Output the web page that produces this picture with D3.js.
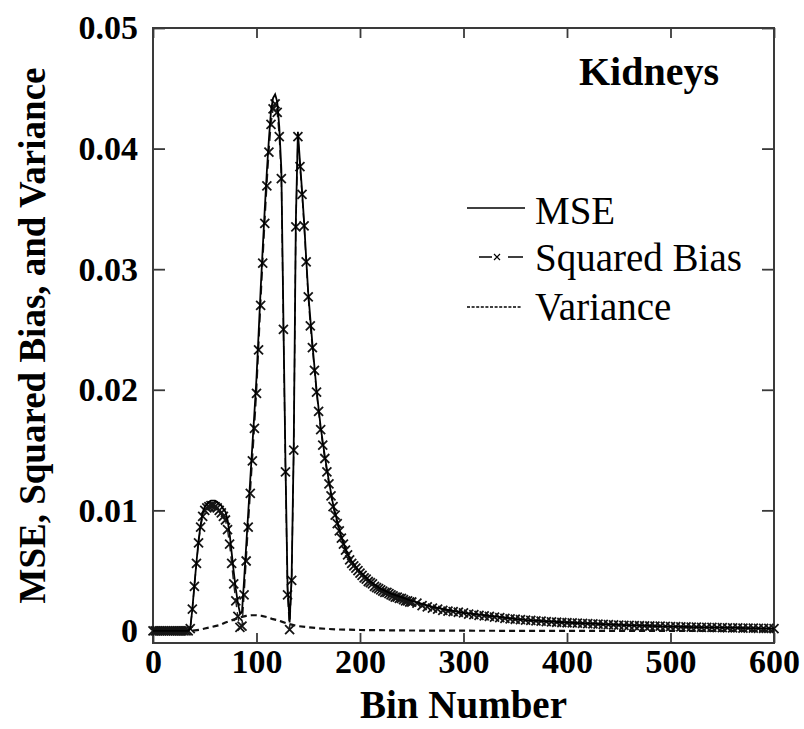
<!DOCTYPE html>
<html>
<head>
<meta charset="utf-8">
<script src="https://cdn.jsdelivr.net/npm/d3@7"></script>
<style>
  body { margin: 0; background: #fff; }
  svg text { font-family: "Liberation Serif", "Times New Roman", serif; }
</style>
</head>
<body>
<svg id="chart"></svg>
<script>
// eixos
const xTicks = [0, 100, 200, 300, 400, 500, 600];
const yTicks = [0, 0.01, 0.02, 0.03, 0.04, 0.05];
const yTickLabels = ["0", "0.01", "0.02", "0.03", "0.04", "0.05"];
const seriesNames = ["MSE", "Squared Bias", "Variance"];

// Squared Bias (um ponto por marcador)
const biasBins = [
  0, 2, 4, 6, 8, 10, 12, 14, 16, 18, 20, 22, 24, 26, 28, 30, 32, 34,
  36, 38, 40, 42, 44, 46, 48, 50, 52, 54, 56, 58, 60, 62, 64, 66, 68, 70,
  72, 74, 76, 78, 80, 82, 84, 86, 88, 90, 92, 94, 96, 98, 100, 102, 104,
  106, 108, 110, 112, 114, 116, 118, 120, 122, 124, 126, 128, 130, 132,
  134, 136, 138, 140, 142, 144, 146, 148, 150,
  152, 154, 156, 158, 160, 162, 164, 166, 168, 170, 172, 174, 176, 178,
  180, 182, 184, 186, 188, 190, 192, 194, 196, 198, 200, 202, 204, 206,
  208, 210, 212, 214, 216, 218, 220, 222, 224, 226, 228, 230, 232, 234,
  236, 238, 240, 242, 244, 246, 248, 250,
  255, 260, 265, 270, 275, 280, 285, 290, 295, 300, 305, 310, 315, 320,
  325, 330, 335, 340, 345, 350, 355, 360, 365, 370, 375, 380, 385, 390,
  395, 400, 405, 410, 415, 420, 425, 430, 435, 440, 445, 450, 455, 460,
  465, 470, 475, 480, 485, 490, 495, 500, 505, 510, 515, 520, 525, 530,
  535, 540, 545, 550, 555, 560, 565, 570, 575, 580, 585, 590, 595, 600
];
const biasValues = [
  0, 0, 0, 0, 0, 0, 0, 0, 0, 0, 0, 0, 0, 0, 0, 0, 0, 0,
  0.0002, 0.0018, 0.0037, 0.0056, 0.0073, 0.0086, 0.0095, 0.0100, 0.0102,
  0.0103, 0.0104, 0.0104, 0.0103, 0.0102, 0.0100, 0.0098, 0.0095, 0.0092,
  0.0084, 0.0072, 0.0056, 0.0039, 0.0025, 0.0012, 0.0003, 0.0004, 0.0030,
  0.0058, 0.0086, 0.0114, 0.0141, 0.0168, 0.0197, 0.0233, 0.0270,
  0.0305, 0.0338, 0.0369, 0.0397, 0.0420, 0.0433, 0.0437, 0.0430, 0.0410,
  0.0375, 0.0250, 0.0132, 0.0030, 0.0001,
  0.0042, 0.0150, 0.0335, 0.0410, 0.0385, 0.0362, 0.0336, 0.0306, 0.0277,
  0.0253, 0.0235, 0.0216, 0.0198, 0.0182, 0.0167, 0.0154, 0.0143, 0.0132,
  0.0122, 0.0112, 0.0103, 0.0096, 0.0089, 0.0083, 0.0077, 0.0072, 0.0067,
  0.0063, 0.0059, 0.0056, 0.0054, 0.0052, 0.0050, 0.0048, 0.0046, 0.0044,
  0.0043, 0.0041, 0.0040, 0.0039, 0.0037, 0.0036, 0.0035, 0.0034, 0.0033,
  0.0032, 0.0032, 0.0031, 0.0030, 0.0029, 0.0028, 0.0028, 0.0027, 0.0027,
  0.0026, 0.0025, 0.0025, 0.0024, 0.0024,
  0.0023, 0.0021, 0.0020, 0.0019, 0.0018, 0.0017, 0.00165, 0.0016,
  0.00155, 0.0015, 0.0014, 0.00135, 0.0013, 0.00125, 0.0012, 0.00115,
  0.0011, 0.00105, 0.0010, 0.00097, 0.00094, 0.0009, 0.00087, 0.00084,
  0.00081, 0.00078, 0.00075, 0.00072, 0.0007, 0.00068, 0.00066, 0.00064,
  0.00062, 0.0006, 0.00058, 0.00056, 0.00054, 0.00052, 0.0005, 0.00049,
  0.00047, 0.00046, 0.00045, 0.00043, 0.00042, 0.00041, 0.0004, 0.00039,
  0.00038, 0.00036, 0.00035, 0.00034, 0.00033, 0.00032, 0.00031, 0.0003,
  0.0003, 0.00029, 0.00028, 0.00027, 0.00026, 0.00026, 0.00025, 0.00024,
  0.00023, 0.00023, 0.00022, 0.00021, 0.00021, 0.0002
];

// MSE
const mseBins = [
  0, 34, 36, 38, 40, 42, 44, 46, 48, 50, 52, 54, 56, 58, 60, 62, 64, 66, 68,
  70, 72, 74, 76, 78, 80, 82, 84, 86, 88, 90, 92, 94, 96, 98, 100, 102, 104,
  106, 108, 110, 112, 114, 116, 118, 120, 122, 124, 126, 128, 130, 132, 134,
  136, 138, 140, 142, 144, 146, 148, 150, 154, 158, 162, 166, 170, 174, 178,
  182, 186, 190, 198, 210, 220, 230, 240, 250, 270, 300, 330, 360, 400, 450,
  500, 550, 600
];
const mseValues = [
  0, 0, 0.0002, 0.0018, 0.0038, 0.0057, 0.0075, 0.0088, 0.0098, 0.0103,
  0.0105, 0.0107, 0.0108, 0.0108, 0.0108, 0.0107, 0.0105, 0.0104, 0.0101,
  0.0099, 0.0092, 0.0081, 0.0065, 0.0049, 0.0035, 0.0023, 0.0015, 0.0016,
  0.0042, 0.0070, 0.0098, 0.0126, 0.0154, 0.0181, 0.0210, 0.0246, 0.0283,
  0.0317, 0.0350, 0.0381, 0.0408, 0.0431, 0.0442, 0.0445, 0.0439, 0.0418,
  0.0383, 0.0258, 0.0139, 0.0037, 0.0007, 0.0047, 0.0155, 0.0339, 0.0414,
  0.0389, 0.0365, 0.0339, 0.0309, 0.0280, 0.0238, 0.0200, 0.0169, 0.0145,
  0.0124, 0.0105, 0.0091, 0.0078, 0.0068, 0.0060, 0.0051, 0.0041, 0.0035,
  0.0031, 0.0028, 0.0025, 0.0020, 0.0015, 0.0012, 0.0009, 0.0007, 0.0005,
  0.00036, 0.00027, 0.0002
];

// Variance
const varBins = [
  0, 34, 38, 45, 50, 55, 60, 65, 70, 75, 80, 85, 90, 95, 100, 105, 110, 115,
  120, 125, 130, 135, 140, 150, 160, 170, 180, 200, 230, 260, 300, 350, 400,
  500, 600
];
const varValues = [
  0, 0, 0.00002, 0.0001, 0.0002, 0.0003, 0.0004, 0.0005, 0.0007, 0.00085,
  0.001, 0.00115, 0.00125, 0.0013, 0.0013, 0.00125, 0.00115, 0.001, 0.0009,
  0.00075, 0.0006, 0.0005, 0.0004, 0.0003, 0.00022, 0.00016, 0.00012,
  0.00008, 0.00005, 0.00003, 0.00002, 0.00001, 0.00001, 0, 0
];

const width = 804, height = 729;
const plot = { left: 153, right: 774, top: 28, bottom: 643 };

const svg = d3.select("#chart")
  .attr("width", width)
  .attr("height", height);

const x = d3.scaleLinear().domain([0, 600]).range([plot.left, plot.right]);
const y = d3.scaleLinear().domain([-0.001, 0.05]).range([plot.bottom, plot.top]);

const toPts = (bins, vals) => bins.map((b, i) => ({ bin: b, v: vals[i] }));
const line = d3.line().x(d => x(d.bin)).y(d => y(d.v));

const axisColor = "#3a3a3a";
const tickFont = "bold 34px 'Liberation Serif', serif";

// eixo X (embaixo e em cima)
const gx = svg.append("g")
  .attr("transform", `translate(0,${plot.bottom})`)
  .call(d3.axisBottom(x).tickValues(xTicks).tickSizeInner(-10).tickSizeOuter(0).tickPadding(6));
gx.selectAll("text").style("font", tickFont).attr("fill", "#000");

svg.append("g")
  .attr("transform", `translate(0,${plot.top})`)
  .call(d3.axisTop(x).tickValues(xTicks).tickSizeInner(-10).tickSizeOuter(0).tickFormat(""));

// eixo Y (esquerda e direita)
const gy = svg.append("g")
  .attr("transform", `translate(${plot.left},0)`)
  .call(d3.axisLeft(y).tickValues(yTicks).tickSizeInner(-12).tickSizeOuter(0).tickPadding(15)
    .tickFormat((d, i) => yTickLabels[i]));
gy.selectAll("text").style("font", tickFont).attr("fill", "#000");

svg.append("g")
  .attr("transform", `translate(${plot.right},0)`)
  .call(d3.axisRight(y).tickValues(yTicks).tickSizeInner(-12).tickSizeOuter(0).tickFormat(""));

svg.selectAll(".domain").remove();
svg.selectAll(".tick line").attr("stroke", axisColor).attr("stroke-width", 1.8);

svg.append("rect")
  .attr("x", plot.left).attr("y", plot.top)
  .attr("width", plot.right - plot.left).attr("height", plot.bottom - plot.top)
  .attr("fill", "none").attr("stroke", axisColor).attr("stroke-width", 2);

// curvas
const biasPts = toPts(biasBins, biasValues);

svg.append("path")
  .datum(toPts(varBins, varValues))
  .attr("d", line)
  .attr("fill", "none")
  .attr("stroke", "#111")
  .attr("stroke-width", 2.2)
  .attr("stroke-dasharray", "6,4");

svg.append("path")
  .datum(biasPts)
  .attr("d", line)
  .attr("fill", "none")
  .attr("stroke", "#222")
  .attr("stroke-width", 1.4)
  .attr("stroke-dasharray", "9,5");

const xMark = "M-4.5,-4.5L4.5,4.5M-4.5,4.5L4.5,-4.5";
svg.append("g")
  .selectAll("path")
  .data(biasPts)
  .enter()
  .append("path")
  .attr("d", xMark)
  .attr("transform", d => `translate(${x(d.bin)},${y(d.v)})`)
  .attr("fill", "none")
  .attr("stroke", "#151515")
  .attr("stroke-width", 1.8);

svg.append("path")
  .datum(toPts(mseBins, mseValues))
  .attr("d", line)
  .attr("fill", "none")
  .attr("stroke", "#000")
  .attr("stroke-width", 1.8);

// legenda
const legend = svg.append("g");
const legendY = [208, 257, 307];
const legendText = [224, 271, 320];

legend.append("line")
  .attr("x1", 467).attr("x2", 525).attr("y1", legendY[0]).attr("y2", legendY[0])
  .attr("stroke", "#000").attr("stroke-width", 1.4);

legend.append("line")
  .attr("x1", 479).attr("x2", 523).attr("y1", legendY[1]).attr("y2", legendY[1])
  .attr("stroke", "#000").attr("stroke-width", 1.4)
  .attr("stroke-dasharray", "13,16,15");
legend.append("path")
  .attr("d", "M-3,-3L3,3M-3,3L3,-3")
  .attr("transform", `translate(497,${legendY[1]})`)
  .attr("stroke", "#000").attr("stroke-width", 1.2);

legend.append("line")
  .attr("x1", 467).attr("x2", 521).attr("y1", legendY[2]).attr("y2", legendY[2])
  .attr("stroke", "#000").attr("stroke-width", 1.6)
  .attr("stroke-dasharray", "3,1.6");

legend.selectAll("text")
  .data(seriesNames)
  .enter()
  .append("text")
  .attr("x", 535)
  .attr("y", (d, i) => legendText[i])
  .style("font-size", "39px")
  .attr("fill", "#000")
  .text(d => d);

// título interno
svg.append("text")
  .attr("x", 579).attr("y", 85)
  .style("font-size", "40px").style("font-weight", "bold")
  .text("Kidneys");

// títulos dos eixos
svg.append("text")
  .attr("x", (plot.left + plot.right) / 2).attr("y", 718)
  .attr("text-anchor", "middle")
  .style("font-size", "39px").style("font-weight", "bold")
  .text("Bin Number");

svg.append("text")
  .attr("transform", `translate(45,${(plot.top + plot.bottom) / 2}) rotate(-90)`)
  .attr("text-anchor", "middle")
  .style("font-size", "37px").style("font-weight", "bold")
  .text("MSE, Squared Bias, and Variance");
</script>
</body>
</html>
